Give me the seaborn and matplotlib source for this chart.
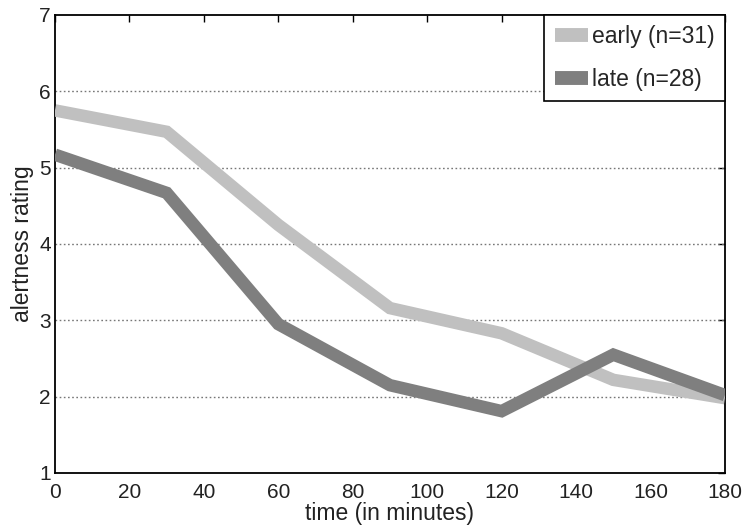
import matplotlib
matplotlib.use("Agg")
import matplotlib.pyplot as plt
import seaborn as sns
import pandas as pd

# Alertness ratings over time for two groups
time_min = [0, 30, 60, 90, 120, 150, 180]
early_rating = [5.75, 5.47, 4.25, 3.16, 2.83, 2.22, 1.98]
late_rating = [5.17, 4.67, 2.95, 2.15, 1.81, 2.55, 2.02]
group_labels = ["early (n=31)", "late (n=28)"]
x_ticks = [0, 20, 40, 60, 80, 100, 120, 140, 160, 180]
y_ticks = [1, 2, 3, 4, 5, 6, 7]

df = pd.concat([
    pd.DataFrame({"time": time_min, "rating": early_rating, "group": group_labels[0]}),
    pd.DataFrame({"time": time_min, "rating": late_rating, "group": group_labels[1]}),
])

sns.set_theme(style="white")
plt.rcParams["font.family"] = ["Liberation Sans", "DejaVu Sans"]

fig = plt.figure(figsize=(7.46, 5.28), dpi=100)
ax = fig.add_axes([0.0737, 0.1042, 0.8981, 0.8674])

palette = {group_labels[0]: "#c0c0c0", group_labels[1]: "#7f7f7f"}
sns.lineplot(data=df, x="time", y="rating", hue="group", palette=palette,
             linewidth=9, ax=ax, solid_joinstyle="miter", solid_capstyle="butt",
             zorder=3)

ax.set_xlim(0, 180)
ax.set_ylim(1, 7)
ax.set_xticks(x_ticks)
ax.set_yticks(y_ticks)
ax.tick_params(direction="in", length=5, width=1, color="black",
               labelsize=15, top=True, right=True, pad=3,
               labelcolor="#222222")
ax.tick_params(axis="x", pad=7)

for y in [2, 3, 4, 5, 6]:
    ax.axhline(y, color="#777777", linestyle=(0, (1.2, 1.8)), linewidth=1, zorder=1)

for s in ax.spines.values():
    s.set_visible(True)
    s.set_color("black")
    s.set_linewidth(1.3)

ax.set_xlabel("time (in minutes)", fontsize=16.5, labelpad=0, color="#222222")
ax.set_ylabel("alertness rating", fontsize=16.5, labelpad=4, color="#222222")

leg = ax.legend(loc="upper right", borderaxespad=0, fontsize=16.5,
                handlelength=1.45, handletextpad=0.18, borderpad=0.45,
                labelspacing=0.85, fancybox=False, framealpha=1)
leg.get_frame().set_edgecolor("black")
leg.get_frame().set_linewidth(1.2)
for h in leg.get_lines():
    h.set_linewidth(10)

fig.savefig("out.png", dpi=100)
